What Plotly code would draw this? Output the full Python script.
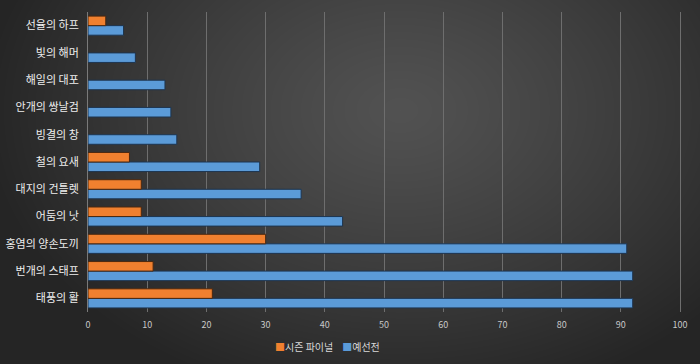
import base64, struct, zlib
import numpy as np
import plotly.graph_objects as go

categories = ["태풍의 활", "번개의 스태프", "홍염의 양손도끼", "어둠의 낫", "대지의 건틀렛",
              "철의 요새", "빙결의 창", "안개의 쌍날검", "해일의 대포", "빛의 해머", "선율의 하프"]
final_vals = [21, 11, 30, 9, 9, 7, None, None, None, None, 3]
prelim_vals = [92, 92, 91, 43, 36, 29, 15, 14, 13, 8, 6]
x_ticks = [0, 10, 20, 30, 40, 50, 60, 70, 80, 90, 100]

W, H = 700, 364
ML, MR, MT, MB = 88, 17, 12, 52

# radial dark gradient background as PNG data URI
yy, xx = np.mgrid[0:H, 0:W].astype(float)
cx, cy = 400.0, 110.0
d = np.sqrt(((xx - cx) / 420.0) ** 2 + ((yy - cy) / 300.0) ** 2)
d = np.clip(d, 0, 1)
v = 0x52 + (0x25 - 0x52) * d ** 1.2
img = np.clip(v, 0, 255).astype(np.uint8)
rgb = np.stack([img, img, img], axis=-1)
raw = b"".join(b"\x00" + rgb[r].tobytes() for r in range(H))
def chunk(t, data):
    c = struct.pack(">I", len(data)) + t + data
    return c + struct.pack(">I", zlib.crc32(t + data) & 0xffffffff)
png = b"\x89PNG\r\n\x1a\n" + chunk(b"IHDR", struct.pack(">IIBBBBB", W, H, 8, 2, 0, 0, 0)) \
    + chunk(b"IDAT", zlib.compress(raw, 9)) + chunk(b"IEND", b"")
uri = "data:image/png;base64," + base64.b64encode(png).decode()

pw, ph = W - ML - MR, H - MT - MB

fig = go.Figure()
fig.add_trace(go.Bar(
    y=categories, x=prelim_vals, orientation="h", name="예선전",
    marker=dict(color="#5B9BD8", line=dict(color="#1d3550", width=1)),
))
fig.add_trace(go.Bar(
    y=categories, x=final_vals, orientation="h", name="시즌 파이널",
    marker=dict(color="#F0802F", line=dict(color="#4a2810", width=1)),
))

fig.update_layout(
    width=W, height=H,
    margin=dict(l=ML, r=MR, t=MT, b=MB),
    paper_bgcolor="#2e2e2e", plot_bgcolor="rgba(0,0,0,0)",
    barmode="group", bargap=0.3, bargroupgap=0.0,
    font=dict(family="Noto Sans CJK KR, sans-serif", color="#d9d9d9"),
    images=[dict(source=uri, xref="paper", yref="paper",
                 x=-ML / pw, y=1 + MT / ph, sizex=W / pw, sizey=H / ph,
                 sizing="stretch", xanchor="left", yanchor="top", layer="below")],
    xaxis=dict(range=[0, 100.5], tickvals=x_ticks, showgrid=True, gridcolor="#6e6e6e",
               gridwidth=1, zeroline=False, showline=False, automargin=False,
               ticklabelstandoff=6,
               tickfont=dict(size=9, color="#c8c8c8"), ticks="", fixedrange=True),
    yaxis=dict(categoryorder="array", categoryarray=categories, showgrid=False,
               showline=True, linecolor="#7a7a7a", linewidth=1, ticks="",
               automargin=False, ticklabelstandoff=6,
               tickfont=dict(size=11, color="#eeeeee")),
    showlegend=False,
    annotations=[dict(
        xref="paper", yref="paper", x=(327 - ML) / pw, y=-34 / ph, xanchor="center", yanchor="middle",
        showarrow=False, font=dict(size=10, color="#d9d9d9"),
        text="<span style='color:#F0802F'>■</span>시즌 파이널&nbsp;&nbsp;&nbsp;&nbsp;<span style='color:#5B9BD8'>■</span>예선전",
    )],
)
fig.write_html("out.html", config={"displayModeBar": False},
               post_script="document.body.style.margin='0';document.body.style.overflow='hidden';")
